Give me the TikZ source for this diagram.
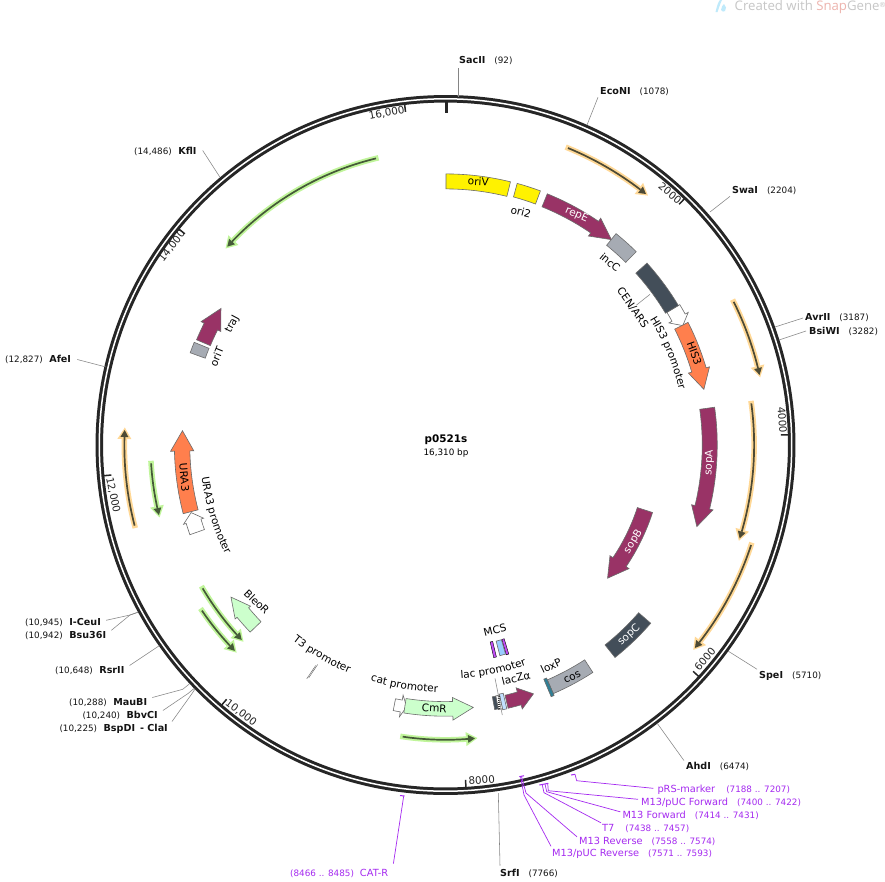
\documentclass[tikz,border=0pt]{standalone}
\usepackage{fontspec}
\usetikzlibrary{decorations.text}
\setmainfont{DejaVu Sans}
\newfontfamily\wmfont{Open Sans}
\definecolor{ringc}{HTML}{262626}
\definecolor{cdsp}{HTML}{993366}
\definecolor{cdso}{HTML}{FF7F4D}
\definecolor{cdsg}{HTML}{CCFFCC}
\definecolor{slatec}{HTML}{434E59}
\definecolor{grayc}{HTML}{A6ABB3}
\definecolor{tealc}{HTML}{2F7F96}
\definecolor{lblue}{HTML}{99CCFF}
\definecolor{primc}{HTML}{A52AF0}
\definecolor{mcsc}{HTML}{C04DF5}
\definecolor{haloO}{HTML}{FFD896}
\definecolor{haloG}{HTML}{C0F59A}
\definecolor{darkO}{HTML}{4D4A35}
\definecolor{darkG}{HTML}{455A38}
\definecolor{wmpink}{HTML}{EDB4AE}
\newcommand\fgeom[4]{%
  \pgfmathsetmacro\aA{atan2(445-#2,#1-445.5)}%
  \pgfmathsetmacro\aB{atan2(445-#4,#3-445.5)}%
  \pgfmathsetmacro\dA{\aB-\aA}%
  \pgfmathsetmacro\aB{\dA>180?\aB-360:(\dA<-180?\aB+360:\aB)}%
  \pgfmathsetmacro\rr{(veclen(#1-445.5,445-#2)+veclen(#3-445.5,445-#4))/2}%
  \pgfmathsetmacro\sg{\aB>\aA?1:-1}%
}
% \feat{style}{x1}{y1}{x2}{y2}{half width}{head half width}{head length}
\newcommand\feat[8]{%
  \fgeom{#2}{#3}{#4}{#5}%
  \pgfmathsetmacro\aH{\aB-\sg*#8/\rr*57.296}%
  \pgfmathsetmacro\rO{\rr+#6}\pgfmathsetmacro\rI{\rr-#6}%
  \pgfmathsetmacro\rW{\rr+#7}\pgfmathsetmacro\rV{\rr-#7}%
  \draw[ctr,#1] (\aA:\rO pt) arc[start angle=\aA,end angle=\aH,radius=\rO pt]
    -- (\aH:\rW pt) -- (\aB:\rr pt) -- (\aH:\rV pt) -- (\aH:\rI pt)
    arc[start angle=\aH,end angle=\aA,radius=\rI pt] -- cycle;
}
% \fbx{style}{x1}{y1}{x2}{y2}{half width}
\newcommand\fbx[6]{%
  \fgeom{#2}{#3}{#4}{#5}%
  \pgfmathsetmacro\rO{\rr+#6}\pgfmathsetmacro\rI{\rr-#6}%
  \draw[ctr,#1] (\aA:\rO pt) arc[start angle=\aA,end angle=\aB,radius=\rO pt]
    -- (\aB:\rI pt) arc[start angle=\aB,end angle=\aA,radius=\rI pt] -- cycle;
}
% \prim{halo}{dark}{x1}{y1}{x2}{y2}
\newcommand\prim[6]{%
  \fgeom{#3}{#4}{#5}{#6}%
  \pgfmathsetmacro\aH{\aB-\sg*7/\rr*57.296}%
  \pgfmathsetmacro\aJ{\aB-\sg*9/\rr*57.296}%
  \pgfmathsetmacro\aS{\aA-\sg*2.5/\rr*57.296}%
  \pgfmathsetmacro\rW{\rr+7}\pgfmathsetmacro\rV{\rr-7}%
  \pgfmathsetmacro\rWW{\rr+4}\pgfmathsetmacro\rVV{\rr-4}%
  \pgfmathsetmacro\aT{\aB+\sg*2.5/\rr*57.296}%
  \draw[ctr,#1,line width=5.5pt] (\aS:\rr pt) arc[start angle=\aS,end angle=\aJ,radius=\rr pt];
  \fill[ctr,#1] (\aJ:\rW pt) -- (\aT:\rr pt) -- (\aJ:\rV pt) -- cycle;
  \draw[ctr,#2,line width=1.7pt] (\aA:\rr pt) arc[start angle=\aA,end angle=\aH,radius=\rr pt];
  \fill[ctr,#2] (\aH:\rWW pt) -- (\aB:\rr pt) -- (\aH:\rVV pt) -- cycle;
}
% \arclab{text}{start angle}{end angle}{baseline radius}
\newcommand\arclab[4]{%
  \path[ctr,decorate,decoration={text along path,text align=center,
      text={|\fontsize{10.5}{12}\selectfont|#1}}]
    (#2:#4pt) arc[start angle=#2,end angle=#3,radius=#4pt];
}
\tikzset{
  ctr/.style={shift={(445.5,-445)}},
  fo/.style={draw=black!58,line width=.6pt},
  lab/.style={font=\fontsize{10.5}{12}\selectfont,inner sep=0pt},
  wlab/.style={lab,text=white},
  enz/.style={font=\fontsize{9.6}{11}\selectfont,anchor=west,inner sep=0pt,text=black!92},
  prm/.style={font=\fontsize{9.8}{11}\selectfont,anchor=west,inner sep=0pt,text=primc},
  tik/.style={font=\fontsize{10.3}{12}\selectfont,inner sep=0pt,text=black!85},
  lead/.style={draw=black!48,line width=.55pt},
  plead/.style={draw=primc,line width=.7pt},
  bra/.style={draw=primc,line width=1pt},
}
\newcommand\pos[1]{{\fontsize{8.8}{11}\selectfont #1}}
\begin{document}
\begin{tikzpicture}[x=1pt,y=1pt]
\useasboundingbox (0,0) rectangle (885,-881);
\fill[white] (0,0) rectangle (885,-881);
% watermark
\fill[cyan!25] (715.5,-12) .. controls (717,-6) and (718,-2) .. (720,0) -- (722,0) .. controls (720,-4) and (719,-8) .. (717.5,-12) -- cycle;
\fill[cyan!25] (721,-10) .. controls (721,-7) and (723,-5) .. (724,-4) .. controls (726,-6) and (727,-9) .. (725,-11) .. controls (724,-12) and (722,-12) .. (721,-10) -- cycle;
\node[anchor=west,inner sep=0pt,font=\wmfont\fontsize{13.2}{15}\selectfont,text=black!22] (wm) at (734.5,-7) {Created with \textcolor{wmpink}{Snap}Gene\raisebox{3pt}{\fontsize{7}{8}\selectfont ®}};
% ring
\draw[ringc,line width=7.5pt] (445.5,-445) circle[radius=346.2pt];
\draw[white,line width=1.5pt] (445.5,-445) circle[radius=346.2pt];
% ticks
\draw[ringc,line width=2.6pt] (446.5,-101.5) -- (446.5,-112.5);
\foreach \b in {1,...,8}{
  \pgfmathsetmacro\ta{90-\b*2000/16310*360}
  \draw[ctr,ringc,line width=1.5pt] (\ta:343pt) -- (\ta:335.5pt);
}
\node[tik,rotate=-40] (t2) at (670,-193.3) {2000};
\node[tik,rotate=-86] (t4) at (782.3,-420) {4000};
\node[tik,rotate=50] (t6) at (705,-659) {6000};
\node[tik,rotate=4] (t8) at (481.7,-780) {8000};
\node[tik,rotate=-37] (t10) at (241,-713) {10,000};
\node[tik,rotate=-78] (t12) at (113,-495) {12,000};
\node[tik,rotate=52] (t14) at (172,-246) {14,000};
\node[tik,rotate=11] (t16) at (386.7,-113.3) {16,000};
% primer-binding / misc arrows
\prim{haloO}{darkO}{568}{148}{646}{194}
\prim{haloO}{darkO}{734}{301.7}{759.3}{375}
\prim{haloO}{darkO}{751.7}{403.3}{739.3}{538.3}
\prim{haloO}{darkO}{751}{545}{695}{648}
\prim{haloO}{darkO}{134.3}{525.7}{125}{430}
\prim{haloG}{darkG}{376}{158.3}{227.3}{246.7}
\prim{haloG}{darkG}{151}{463.3}{159}{515}
\prim{haloG}{darkG}{202.7}{588.3}{241.7}{640}
\prim{haloG}{darkG}{201.7}{610.7}{235}{650.7}
\prim{haloG}{darkG}{402.7}{736.7}{475}{738.3}
% features
\fbx{fo,fill=yellow}{446}{181.5}{508.7}{189}{7.5}
\fbx{fo,fill=yellow}{515.3}{190.3}{538}{197.3}{7}
\feat{fo,fill=cdsp}{544.5}{200.7}{611.7}{239.3}{7}{10.8}{21}
\fbx{fo,fill=grayc}{611.3}{239.5}{631}{257}{7.5}
\feat{fo,fill=white}{672.2}{309.2}{684}{325}{7.5}{11}{9}
\fbx{fo,fill=slatec}{641.2}{268.3}{672.2}{309.2}{7.5}
\feat{fo,fill=cdso}{681.3}{325.8}{704}{389.3}{7.5}{11}{20}
\feat{fo,fill=cdsp}{706.7}{408.3}{697.3}{526.7}{7.5}{11}{20}
\feat{fo,fill=cdsp}{644.8}{510}{607.7}{578.3}{8}{11.5}{20}
\fbx{fo,fill=slatec}{644.7}{618}{610}{651.2}{8}
\fbx{fo,fill=grayc}{588.8}{666.2}{550.3}{686.7}{7.5}
\fbx{fo,fill=tealc}{550.3}{686.7}{547.5}{688}{9.5}
\feat{fo,fill=cdsp}{506.7}{702.3}{533.3}{693.3}{6.7}{11}{15}
\fbx{fo,fill=lblue!60}{505}{701}{501}{702}{8}
\fbx{fo,fill=white}{501}{702}{497}{702.7}{7}
\draw[black!80,line width=2.2pt,dash pattern=on .8pt off 1.2pt] (499,-696) -- (499.3,-709);
\fbx{fo,fill=slatec}{497}{702.7}{493.5}{703}{6.5}
\fbx{fill=mcsc}{506.5}{646.5}{504}{647}{8}
\fbx{fo,fill=lblue}{503.5}{647}{498}{648.3}{7.5}
\fbx{fill=mcsc}{494.5}{649}{492}{650}{8}
\feat{fo,fill=white}{394.2}{705.5}{406.7}{706}{6}{11}{5.4}
\feat{fo,fill=cdsg}{405}{705.5}{473.3}{707.7}{7.3}{11.3}{20.6}
\feat{fo,fill=cdso}{190.8}{511.7}{182.3}{430.7}{7.7}{11.6}{20.3}
\feat{fo,fill=white}{197.5}{532}{190.7}{512.7}{7.7}{10.5}{9}
\feat{fo,fill=cdsg}{255.8}{626.7}{230.7}{597.3}{7.5}{10}{19.5}
\feat{fo,fill=cdsp}{203.7}{342.8}{220.7}{308.3}{7.5}{11}{20.7}
\fbx{fo,fill=grayc}{201.5}{345.3}{197.8}{355.5}{8}
\coordinate (t3a) at (316.7,-665);
\coordinate (t3b) at (307.7,-678.3);
\draw[black!60,line width=.45pt] ([xshift=1pt,yshift=.5pt]t3a) -- ([xshift=1pt,yshift=.5pt]t3b);
\draw[black!60,line width=.45pt] ([xshift=-1pt,yshift=-.5pt]t3a) -- ([xshift=-1pt,yshift=-.5pt]t3b);
% feature labels
\node[lab,rotate=-3.5] (oriV) at (478.3,-181.7) {oriV};
\node[lab,rotate=-14] (ori2) at (521,-211.7) {ori2};
\node[wlab,rotate=-24] (repE) at (576.7,-215) {repE};
\node[lab,rotate=-40] (incC) at (610,-262.3) {incC};
\node[lab,rotate=-55] (cen) at (632.7,-307.7) {CEN/ARS};
\coordinate (cenf) at (650,-294.3);
\draw[lead] (cenf) -- (cen.north);
\arclab{HIS3 promoter}{36}{9}{240}
\node[lab,rotate=-70] (his3) at (694.3,-353.3) {HIS3};
\node[wlab,rotate=87] (sopA) at (709.3,-462.7) {sopA};
\node[wlab,rotate=58] (sopB) at (633.3,-541.7) {sopB};
\node[wlab,rotate=43] (sopC) at (629,-635) {sopC};
\node[lab,rotate=26] (cos) at (572.3,-677.3) {cos};
\node[lab,rotate=25] (loxP) at (551,-665.7) {loxP};
\node[lab,rotate=14] (lacZ) at (516,-678.3) {lacZα};
\arclab{lac promoter}{269}{295}{234}
\coordinate (lacl) at (495,-678.3);
\coordinate (lacf) at (502.3,-715);
\draw[lead] (lacl) -- (lacf);
\node[lab,rotate=14] (MCS) at (495,-630) {MCS};
\node[lab,rotate=-3] (CmR) at (434.3,-708.3) {CmR};
\arclab{cat promoter}{247}{273.6}{247.5}
\arclab{T3 promoter}{226}{253}{248}
\node[lab,rotate=-44] (BleoR) at (256.7,-601.7) {BleoR};
\node[lab,rotate=-85] (URA3) at (184.3,-477.3) {URA3};
\arclab{URA3 promoter}{183}{211}{246}
\node[lab,rotate=62] (traJ) at (232.3,-324.3) {traJ};
\node[lab,rotate=68] (oriT) at (216.7,-356.7) {oriT};
% centre
\node[inner sep=0pt,font=\bfseries\fontsize{10.4}{12}\selectfont] (title) at (446,-440) {p0521s};
\node[inner sep=0pt,font=\fontsize{8.8}{11}\selectfont] (size) at (446,-453) {16,310 bp};
% enzymes, right side
\node[enz] (SacII) at (459,-60.5) {\textbf{SacII}\hspace{9pt}\pos{(92)}};
\node[enz] (EcoNI) at (600,-92) {\textbf{EcoNI}\hspace{9pt}\pos{(1078)}};
\node[enz] (SwaI) at (732,-191) {\textbf{SwaI}\hspace{9pt}\pos{(2204)}};
\node[enz] (AvrII) at (805,-318) {\textbf{AvrII}\hspace{9pt}\pos{(3187)}};
\node[enz] (BsiWI) at (809,-331) {\textbf{BsiWI}\hspace{9pt}\pos{(3282)}};
\node[enz] (SpeI) at (759,-676) {\textbf{SpeI}\hspace{9pt}\pos{(5710)}};
\node[enz] (AhdI) at (686,-766) {\textbf{AhdI}\hspace{9pt}\pos{(6474)}};
\node[enz] (SrfI) at (500,-873) {\textbf{SrfI}\hspace{9pt}\pos{(7766)}};
\coordinate (rSacII) at (458.5,-97);
\coordinate (rEcoNI) at (587,-125);
\coordinate (rSwaI) at (710,-212);
\coordinate (rAvrII) at (775,-327);
\coordinate (rBsiWI) at (779,-340);
\coordinate (rSpeI) at (728,-651);
\coordinate (rAhdI) at (657,-723);
\coordinate (rSrfI) at (498.3,-793);
\draw[lead] (rSacII) -- ([xshift=-.5pt,yshift=-3pt]SacII.south west);
\draw[lead] (rEcoNI) -- ([xshift=-2pt,yshift=-1pt]EcoNI.south west);
\draw[lead] (rSwaI) -- ([xshift=-2pt,yshift=-1pt]SwaI.south west);
\draw[lead] (rAvrII) -- ([xshift=-2pt]AvrII.west);
\draw[lead] (rBsiWI) -- ([xshift=-3pt]BsiWI.west);
\draw[lead] (rSpeI) -- ([xshift=-2pt,yshift=2pt]SpeI.north west);
\draw[lead] (rAhdI) -- ([xshift=-2pt,yshift=1pt]AhdI.north west);
\draw[lead] (rSrfI) -- ([yshift=3pt]SrfI.north west);
% enzymes, left side
\node[enz] (KflI) at (134,-151.5) {\pos{(14,486)}\hspace{6.5pt}\textbf{KflI}};
\node[enz] (AfeI) at (5,-359.5) {\pos{(12,827)}\hspace{6.5pt}\textbf{AfeI}};
\node[enz] (ICeuI) at (25,-622.3) {\pos{(10,945)}\hspace{6.5pt}\textbf{I-CeuI}};
\node[enz] (Bsu) at (25,-635.3) {\pos{(10,942)}\hspace{6.5pt}\textbf{Bsu36I}};
\node[enz] (RsrII) at (55,-670.5) {\pos{(10,648)}\hspace{6.5pt}\textbf{RsrII}};
\node[enz] (MauBI) at (69,-702.5) {\pos{(10,288)}\hspace{6.5pt}\textbf{MauBI}};
\node[enz] (BbvCI) at (82.3,-715.5) {\pos{(10,240)}\hspace{6.5pt}\textbf{BbvCI}};
\node[enz] (BspDI) at (59.3,-728.5) {\pos{(10,225)}\hspace{6.5pt}\textbf{BspDI}\hspace{5pt}\textbf{- ClaI}};
\coordinate (rKflI) at (220,-177.3);
\coordinate (rAfeI) at (106,-367);
\coordinate (rCeu) at (137.7,-612.3);
\coordinate (vCeu) at (130,-615);
\coordinate (rRsr) at (159.3,-645.7);
\coordinate (rMau) at (189.3,-684);
\coordinate (vMau) at (182.7,-689.3);
\coordinate (rBbv) at (194.3,-688.3);
\coordinate (vBbv) at (188.3,-693.3);
\coordinate (rBsp) at (195,-689);
\coordinate (vBsp) at (191.7,-694);
\draw[lead] (rKflI) -- ([xshift=6pt,yshift=1pt]KflI.east);
\draw[lead] (rAfeI) -- ([xshift=6pt]AfeI.east);
\draw[lead] (rCeu) -- (vCeu) -- ([xshift=5pt,yshift=2pt]ICeuI.east);
\draw[lead] (rCeu) -- (vCeu) -- ([xshift=5pt,yshift=5pt]Bsu.east);
\draw[lead] (rRsr) -- ([xshift=5pt,yshift=5pt]RsrII.east);
\draw[lead] (rMau) -- (vMau) -- ([xshift=5pt,yshift=5pt]MauBI.east);
\draw[lead] (rBbv) -- (vBbv) -- ([xshift=5pt,yshift=5pt]BbvCI.east);
\draw[lead] (rBsp) -- (vBsp) -- ([xshift=4pt,yshift=7pt]BspDI.east);
% primers
\node[prm] (pRS) at (657.3,-789.3) {pRS-marker\hspace{11pt}\pos{(7188 .. 7207)}};
\node[prm] (pF) at (641,-802.3) {M13/pUC Forward\hspace{9pt}\pos{(7400 .. 7422)}};
\node[prm] (F) at (622.3,-815.3) {M13 Forward\hspace{9pt}\pos{(7414 .. 7431)}};
\node[prm] (T7) at (602,-828.3) {T7\hspace{11pt}\pos{(7438 .. 7457)}};
\node[prm] (R) at (579,-841.3) {M13 Reverse\hspace{9pt}\pos{(7558 .. 7574)}};
\node[prm] (pR) at (552,-854.3) {M13/pUC Reverse\hspace{9pt}\pos{(7571 .. 7593)}};
\node[prm] (CAT) at (290,-873) {\pos{(8466 .. 8485)}\hspace{6pt}CAT-R};
\coordinate (bRS) at (575,-774.3);
\coordinate (vRS) at (576.7,-780.7);
\draw[bra] (571,-775) -- (bRS);
\draw[plead] (bRS) -- (vRS) -- ([xshift=-4pt,yshift=1pt]pRS.west);
\draw[bra] (539.3,-785) -- (548.3,-783.3);
\coordinate (bpF) at (547.7,-783.7); \coordinate (vpF) at (548.3,-790.7);
\coordinate (bF) at (545,-784); \coordinate (vF) at (546.7,-791.7);
\coordinate (bT) at (542.3,-785); \coordinate (vT) at (544,-792.7);
\draw[plead] (bpF) -- (vpF) -- ([xshift=-3pt,yshift=3pt]pF.west);
\draw[plead] (bF) -- (vF) -- ([xshift=-2pt,yshift=3.5pt]F.west);
\draw[plead] (bT) -- (vT) -- ([xshift=-1pt,yshift=5.5pt]T7.west);
\draw[bra] (519.3,-776.7) -- (524,-775.7);
\coordinate (bR) at (521.5,-776.5); \coordinate (vR) at (526,-793);
\coordinate (bpR) at (520.5,-776.5); \coordinate (vpR) at (524,-795);
\draw[plead] (bR) -- (vR) -- ([xshift=-2pt,yshift=4.5pt]R.west);
\draw[plead] (bpR) -- (vpR) -- ([xshift=-1pt,yshift=8pt]pR.west);
\draw[bra] (400,-795.5) -- (404.5,-796);
\coordinate (bC) at (403.7,-796);
\draw[plead] (bC) -- ([xshift=5pt,yshift=5pt]CAT.north east);
\end{tikzpicture}
\end{document}
